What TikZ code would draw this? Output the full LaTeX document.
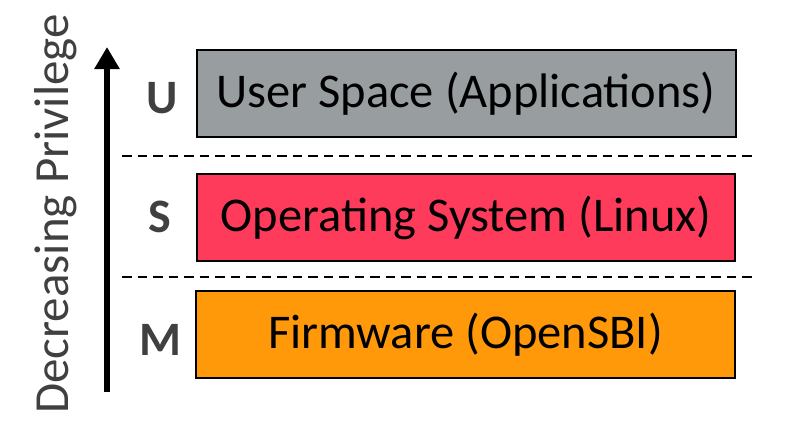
\documentclass[tikz,border=0pt]{standalone}
\usepackage{fontspec}
\setmainfont{Carlito}
\usetikzlibrary{arrows.meta}
\definecolor{ugray}{RGB}{152,157,160}
\definecolor{sred}{RGB}{255,59,92}
\definecolor{morange}{RGB}{255,153,10}
\definecolor{lbl}{RGB}{64,64,64}
\begin{document}
\begin{tikzpicture}[x=1pt,y=-1pt,
  layertext/.style={font=\fontsize{48.5}{56}\selectfont,text=black,inner sep=0pt},
  modelbl/.style={font=\fontsize{48}{56}\selectfont\bfseries,text=lbl,inner sep=0pt},
  sep/.style={draw=black,line width=2.8pt,dash pattern=on 9.5pt off 6pt}]
\useasboundingbox (0,0) rectangle (786,436);
\path[fill=ugray,draw=black,line width=2pt] (197,50) rectangle (736,137);
\node[layertext] (U) at (466,93.5) {User Space (Applications)};
\path[fill=sred,draw=black,line width=2pt] (197,174) rectangle (735,261);
\node[layertext] (S) at (466,217.5) {Operating System (Linux)};
\path[fill=morange,draw=black,line width=2pt] (196,291) rectangle (735,378);
\node[layertext] (M) at (465.5,334.5) {Firmware (OpenSBI)};
\node[modelbl] (lu) at (162,98) {U};
\node[modelbl] (ls) at (160,217) {S};
\node[modelbl] (lm) at (160,340) {M};
\coordinate (d1a) at (122,156); \coordinate (d1b) at (752,156);
\coordinate (d2a) at (122,277); \coordinate (d2b) at (754,277);
\draw[sep] (d1a) -- (d1b);
\draw[sep] (d2a) -- (d2b);
\coordinate (abot) at (107,392); \coordinate (atop) at (107,47);
\draw[line width=6pt,-{Triangle[length=22pt,width=24pt]}] (abot) -- (atop);
\node[rotate=90,font=\fontsize{49}{56}\selectfont,text=lbl,inner sep=0pt] (dp) at (56,214) {Decreasing Privilege};
\end{tikzpicture}
\end{document}
